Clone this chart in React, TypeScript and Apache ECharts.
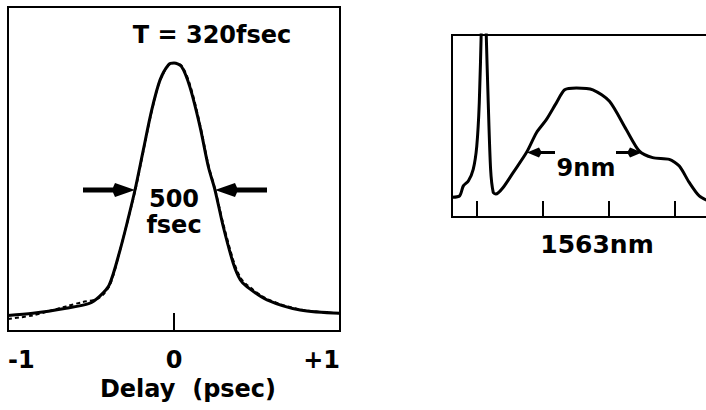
import React, { useEffect, useRef } from "react";
import * as echarts from "echarts";

// Autocorrelation trace (left panel): delay in psec, normalised intensity
const delaySolid = [-1.0, -0.85, -0.65, -0.51, -0.45, -0.39, -0.325, -0.28, -0.235, -0.185, -0.134, -0.084, -0.034, 0, 0.046, 0.096, 0.157, 0.207, 0.247, 0.297, 0.357, 0.4, 0.44, 0.56, 0.76, 1.0];
const intensitySolid = [0.058, 0.066, 0.085, 0.103, 0.128, 0.172, 0.302, 0.41, 0.526, 0.675, 0.825, 0.937, 0.993, 1.0, 0.986, 0.91, 0.762, 0.613, 0.526, 0.389, 0.253, 0.19, 0.165, 0.116, 0.078, 0.066];
const delayDashed = [-1.0, -0.85, -0.75, -0.65, -0.55, -0.47, -0.42, -0.38, -0.33, -0.235, -0.185, -0.134, -0.084, -0.034, 0, 0.046, 0.096, 0.157, 0.207, 0.247, 0.297, 0.357, 0.4, 0.44, 0.56, 0.76, 1.0];
const intensityDashed = [0.045, 0.058, 0.075, 0.092, 0.108, 0.118, 0.14, 0.18, 0.29, 0.52, 0.67, 0.82, 0.935, 0.99, 1.0, 0.99, 0.92, 0.77, 0.62, 0.53, 0.4, 0.265, 0.2, 0.172, 0.12, 0.08, 0.066];
const delayTicks = [-1, 0, 1];
const delayTickLabels = ["-1", "0", "+1"];

// Spectrum (right panel): wavelength in nm, normalised intensity
const wavelength = [1553.15, 1553.7, 1553.98, 1554.36, 1554.73, 1555.0, 1555.19, 1555.35, 1555.52, 1555.7, 1555.87, 1556.05, 1556.25, 1556.45, 1557.0, 1557.76, 1558.77, 1559.53, 1560.29, 1561.04, 1561.67, 1562.56, 1563.81, 1565.07, 1566.34, 1567.34, 1568.35, 1569.61, 1570.37, 1571.12, 1571.88, 1572.85];
const spectrum = [0.108, 0.116, 0.171, 0.198, 0.262, 0.39, 0.627, 1.05, 1.6, 1.05, 0.628, 0.262, 0.135, 0.126, 0.162, 0.244, 0.354, 0.463, 0.536, 0.627, 0.699, 0.709, 0.699, 0.636, 0.481, 0.362, 0.326, 0.317, 0.28, 0.19, 0.116, 0.08];
const wavelengthTicks = [1555, 1560, 1565, 1570];

const FONT = "DejaVu Sans";

function arrow(tipX: number, tailX: number, y: number, shaft: number, headLen: number, headHalf: number) {
  const d = tipX < tailX ? 1 : -1;
  const base = tipX + d * headLen;
  const s = shaft / 2;
  return {
    type: "polygon",
    shape: {
      points: [
        [tailX, y - s],
        [base + d * 2, y - s],
        [base, y - headHalf],
        [tipX, y],
        [base, y + headHalf],
        [base + d * 2, y + s],
        [tailX, y + s],
      ],
    },
    style: { fill: "#000" },
    silent: true,
  };
}

function txt(x: number, y: number, text: string, size: number) {
  return {
    type: "text",
    x,
    y,
    style: {
      text,
      fill: "#000",
      font: `bold ${size}px "${FONT}"`,
      align: "center",
      verticalAlign: "middle",
    },
    silent: true,
  };
}

export default function App() {
  const ref = useRef<HTMLDivElement>(null);
  useEffect(() => {
    if (!ref.current) return;
    const chart = echarts.init(ref.current, null, { renderer: "svg" });
    const option: any = {
      animation: false,
      backgroundColor: "#fff",
      grid: [
        { left: 8, top: 7, width: 332, height: 324, outerBoundsMode: "none", show: true, borderColor: "#000", borderWidth: 2, backgroundColor: "transparent" },
        { left: 452, top: 35, width: 260, height: 182, outerBoundsMode: "none", show: true, borderColor: "#000", borderWidth: 2, backgroundColor: "transparent" },
      ],
      xAxis: [
        {
          gridIndex: 0,
          type: "value",
          min: -1,
          max: 1,
          interval: 1,
          axisLine: { show: false },
          splitLine: { show: false },
          axisTick: { show: true, inside: true, length: 18, lineStyle: { color: "#000", width: 2 } },
          axisLabel: {
            show: true,
            margin: 17,
            color: "#000",
            fontFamily: FONT,
            fontWeight: "bold",
            fontSize: 24,
            alignMinLabel: "left",
            alignMaxLabel: "right",
            formatter: (v: number) => {
              const i = delayTicks.indexOf(v);
              return i >= 0 ? delayTickLabels[i] : "";
            },
          },
          name: "Delay  (psec)",
          nameLocation: "middle",
          nameGap: 43,
          nameTextStyle: { color: "#000", fontFamily: FONT, fontWeight: "bold", fontSize: 24, padding: [0, 0, 0, 28] },
        },
        {
          gridIndex: 1,
          type: "value",
          min: 1553.12,
          max: 1572.85,
          axisLine: { show: false },
          splitLine: { show: false },
          axisTick: { show: true, inside: true, length: 16, customValues: wavelengthTicks, lineStyle: { color: "#000", width: 2 } },
          axisLabel: { show: false },
        },
      ],
      yAxis: [
        { gridIndex: 0, type: "value", min: 0, max: 1.209, show: false },
        { gridIndex: 1, type: "value", min: 0, max: 1.0, show: false },
      ],
      series: [
        {
          type: "line",
          xAxisIndex: 0,
          yAxisIndex: 0,
          data: delayDashed.map((x, i) => [x, intensityDashed[i]]),
          showSymbol: false,
          smooth: 0.3,
          lineStyle: { color: "#000", width: 2, type: [4, 3] },
        },
        {
          type: "line",
          xAxisIndex: 0,
          yAxisIndex: 0,
          data: delaySolid.map((x, i) => [x, intensitySolid[i]]),
          showSymbol: false,
          smooth: 0.3,
          lineStyle: { color: "#000", width: 3 },
        },
        {
          type: "line",
          xAxisIndex: 1,
          yAxisIndex: 1,
          data: wavelength.map((x, i) => [x, spectrum[i]]),
          showSymbol: false,
          smooth: 0.25,
          clip: true,
          lineStyle: { color: "#000", width: 3 },
        },
      ],
      graphic: [
        txt(212, 35, "T = 320fsec", 24),
        txt(174, 199, "500", 24),
        txt(174, 225, "fsec", 24),
        arrow(135, 83, 190, 5, 20, 7),
        arrow(215, 267, 190, 5, 20, 7),
        arrow(527, 555, 152.5, 3, 12, 5),
        arrow(642, 616, 152.5, 3, 12, 5),
        txt(586, 168, "9nm", 24),
        txt(597, 244, "1563nm", 25),
      ],
    };
    chart.setOption(option);
    return () => chart.dispose();
  }, []);
  return (
    <div
      ref={ref}
      style={{ position: "absolute", left: 0, top: 0, width: 706, height: 410, background: "#fff" }}
    />
  );
}
